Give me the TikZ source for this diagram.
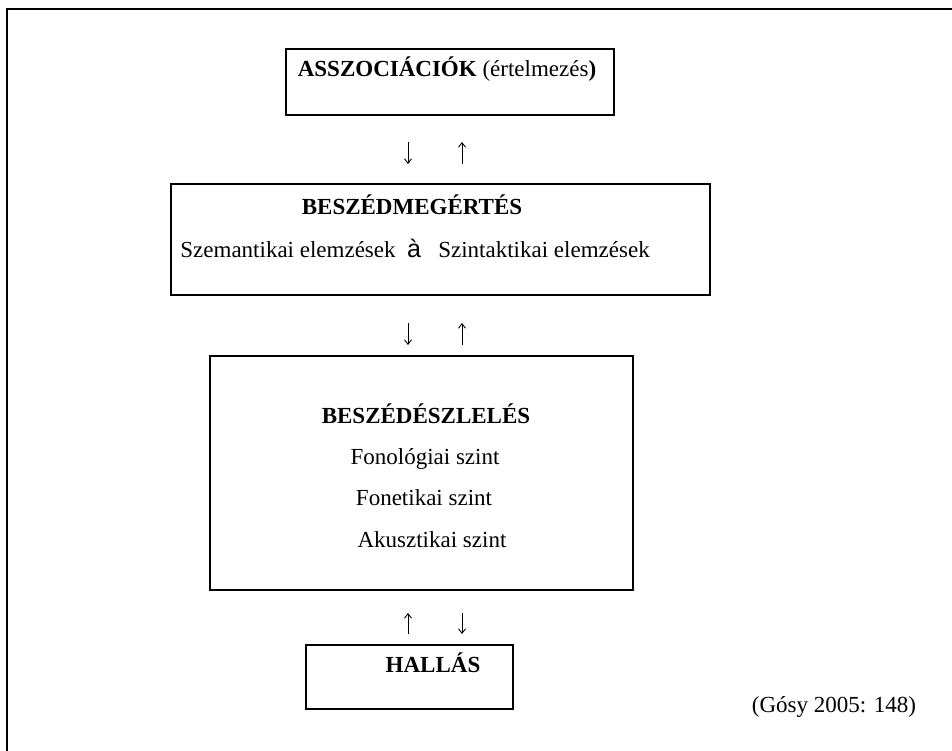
\documentclass[tikz,border=0pt]{standalone}
\usepackage{fontspec}
\setmainfont{Liberation Serif}
\newfontfamily\arialfont{Liberation Sans}
\usetikzlibrary{positioning,arrows.meta}

\begin{document}
\begin{tikzpicture}[x=1pt,y=-1pt,
  box/.style={draw,line width=1.6pt,anchor=north west,inner sep=0pt},
  txt/.style={anchor=base,inner sep=0pt,font=\fontsize{23}{27}\selectfont},
  ttl/.style={txt,font=\fontsize{23}{27}\selectfont\bfseries},
  updown/.style={line width=0.9pt,-{Straight Barb[length=4.5pt,width=7pt]}}]

  \useasboundingbox (0,0) rectangle (952,751);
  \clip (0,0) rectangle (952,751);
  \draw[line width=2pt] (7,9) rectangle (980,780);

  % boxes
  \node[box,minimum width=328pt,minimum height=66pt]  (assz) at (285,48)  {};
  \node[box,minimum width=539pt,minimum height=111pt] (megert) at (170,183) {};
  \node[box,minimum width=423pt,minimum height=234pt] (eszlel) at (209,355) {};
  \node[box,minimum width=207pt,minimum height=64pt]  (hallas) at (305,644) {};

  % texts
  \node[txt] (asszt) at (447,77) {{\bfseries ASSZOCIÁCIÓK} (értelmezés{\bfseries )}};

  \node[ttl] (megertt) at (412,215) {BESZÉDMEGÉRTÉS};
  \node[txt] (szem) at (288,258) {Szemantikai elemzések};
  \node[txt,font=\arialfont\fontsize{25}{29}\selectfont] (nyil) at (414,258) {à};
  \node[txt] (szint) at (544,258) {Szintaktikai elemzések};

  \node[ttl] (eszlelt) at (426,423) {BESZÉDÉSZLELÉS};
  \node[txt] (fonol) at (425,464) {Fonológiai szint};
  \node[txt] (fonet) at (424,505) {Fonetikai szint};
  \node[txt] (akusz) at (432,547) {Akusztikai szint};

  \node[ttl] (hallast) at (433,672) {HALLÁS};
  \node[txt] (forras) at (834,712) {(Gósy 2005: 148)};

  % arrows
  \coordinate (d1) at (408,142);
  \coordinate (d2) at (408,164);
  \coordinate (u1) at (462,164);
  \coordinate (u2) at (462,142);

  \coordinate (d3) at (408,323);
  \coordinate (d4) at (408,345);
  \coordinate (u3) at (462,345);
  \coordinate (u4) at (462,323);

  \coordinate (u5) at (408,634);
  \coordinate (u6) at (408,613);
  \coordinate (d5) at (462,613);
  \coordinate (d6) at (462,634);

  \path
  (d1) edge [updown] (d2)
  (u1) edge [updown] (u2)
  (d3) edge [updown] (d4)
  (u3) edge [updown] (u4)
  (u5) edge [updown] (u6)
  (d5) edge [updown] (d6);
\end{tikzpicture}
\end{document}
